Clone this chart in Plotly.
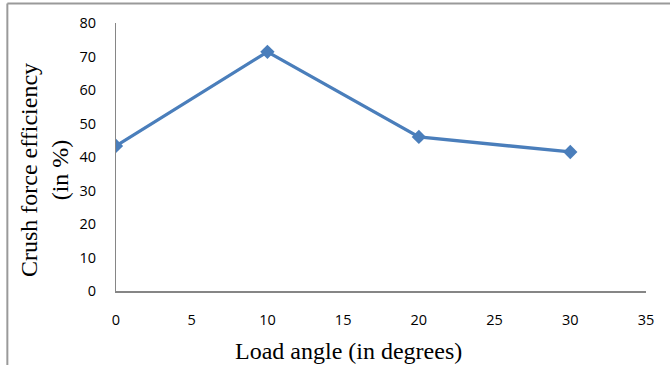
import plotly.graph_objects as go

# Crush force efficiency vs load angle
load_angle = [0, 10, 20, 30]
efficiency = [43.3, 71.4, 46.0, 41.5]

x_ticks = [0, 5, 10, 15, 20, 25, 30, 35]
y_ticks = [0, 10, 20, 30, 40, 50, 60, 70, 80]

line_color = "#4A7EBB"
axis_color = "#868686"
tick_font = dict(family="Open Sans, DejaVu Sans, sans-serif", size=14.5, color="#000000")
title_font = dict(family="Liberation Serif, Times New Roman, serif", size=24, color="#000000")

fig = go.Figure()
fig.add_trace(go.Scatter(
    x=load_angle, y=efficiency,
    mode="lines+markers",
    line=dict(color=line_color, width=3.3),
    marker=dict(symbol="diamond", size=11, color=line_color),
    showlegend=False,
))

fig.update_xaxes(
    range=[0, 35], tickvals=x_ticks, ticktext=[str(v) for v in x_ticks],
    showgrid=False, zeroline=False, showline=True, linecolor=axis_color, linewidth=2,
    ticks="outside", ticklen=15, tickcolor="rgba(0,0,0,0)", tickfont=tick_font,
)
fig.update_yaxes(
    range=[0, 80], tickvals=y_ticks, ticktext=[str(v) for v in y_ticks],
    showgrid=False, zeroline=False, showline=True, linecolor=axis_color, linewidth=1,
    ticks="outside", ticklen=16, tickcolor="rgba(0,0,0,0)", tickfont=tick_font,
)

# Axis titles
fig.add_annotation(text="Load angle (in degrees)", xref="paper", yref="paper",
                   x=0.438, y=-0.225, showarrow=False, font=title_font,
                   xanchor="center", yanchor="middle")
fig.add_annotation(text="Crush force efficiency<br>(in %)", xref="paper", yref="paper",
                   x=-0.136, y=0.451, showarrow=False, textangle=-90, font=title_font,
                   xanchor="center", yanchor="middle")

# Outer frame (top and left edges)
frame = dict(color="#9a9a9a", width=2)
fig.add_shape(type="line", xref="paper", yref="paper", x0=-0.205, x1=1.05, y0=1.073, y1=1.073, line=frame)
fig.add_shape(type="line", xref="paper", yref="paper", x0=-0.205, x1=-0.205, y0=1.073, y1=-0.3, line=frame)

fig.update_layout(
    width=670, height=365,
    margin=dict(l=116, r=24, t=23, b=74),
    paper_bgcolor="white", plot_bgcolor="white",
)

fig.write_html("out.html")
